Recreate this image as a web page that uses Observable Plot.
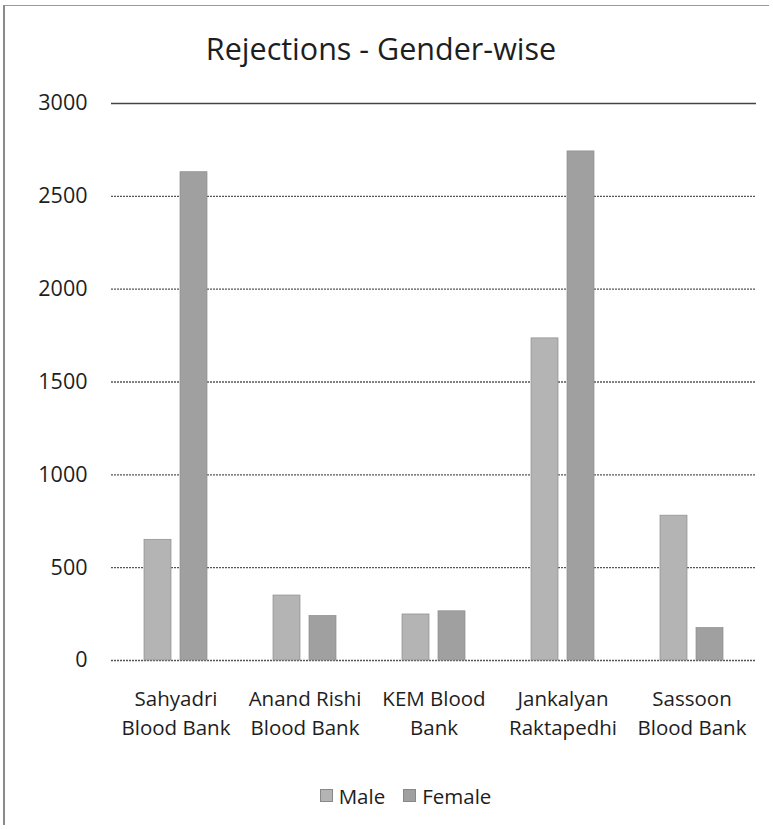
<!DOCTYPE html>
<html>
<head>
<meta charset="utf-8">
<script src="https://cdn.jsdelivr.net/npm/d3@7"></script>
<script src="https://cdn.jsdelivr.net/npm/@observablehq/plot@0.6"></script>
<style>
  html, body { margin: 0; padding: 0; background: #fff; }
  body { width: 773px; height: 829px; overflow: hidden; font-family: "Open Sans", "Noto Sans", sans-serif; color: #1e1e1e; }
  #frame { position: absolute; left: 3px; top: 5px; width: 766px; height: 820px; border-left: 2px solid #8a8a8a; border-top: 1px solid #9a9a9a; box-sizing: border-box; }
  #title { position: absolute; top: 27px; left: 0; width: 762px; text-align: center; font-size: 30.5px; }
  #chart { position: absolute; top: 80px; left: 0; }
  #legend { position: absolute; top: 782px; left: 0; width: 773px; display: flex; justify-content: center; gap: 18px; font-size: 20.5px; padding-left: 38px; box-sizing: border-box; }
  #legend span.sw { display: inline-block; width: 11px; height: 11px; margin-right: 6px; vertical-align: 2px; }
</style>
</head>
<body>
<div id="frame"></div>
<div id="title">Rejections - Gender-wise</div>
<div id="chart"></div>
<div id="legend"></div>
<script>
const categories = ["Sahyadri\nBlood Bank", "Anand Rishi\nBlood Bank", "KEM Blood\nBank", "Jankalyan\nRaktapedhi", "Sassoon\nBlood Bank"];
const series = ["Male", "Female"];
const male = [650, 350, 248, 1735, 780];
const female = [2630, 240, 265, 2742, 175];
const yTicks = [0, 500, 1000, 1500, 2000, 2500, 3000];
const colors = ["#b4b4b4", "#a0a0a0"];

const data = [];
categories.forEach((c, i) => {
  data.push({category: c, gender: series[0], value: male[i]});
  data.push({category: c, gender: series[1], value: female[i]});
});

const plot = Plot.plot({
  width: 773,
  height: 665,
  marginLeft: 110,
  marginRight: 16,
  marginTop: 23,
  marginBottom: 85,
  style: { fontFamily: "Open Sans, Noto Sans, sans-serif", fontSize: "20px", color: "#1e1e1e", background: "transparent" },
  fx: { domain: categories, paddingInner: 0, paddingOuter: 0, label: null },
  x: { domain: series, paddingInner: 0.2432, paddingOuter: 0.865, axis: null, label: null },
  y: { domain: [0, 3000], ticks: yTicks, axis: null, label: null },
  color: { domain: series, range: colors },
  marks: [
    Plot.ruleY(yTicks.filter(d => d !== 3000), { stroke: "#555", strokeWidth: 1.3, strokeDasharray: "2,1" }),
    Plot.ruleY(yTicks.filter(d => d === 3000), { stroke: "#444", strokeWidth: 1.5 }),
    Plot.barY(data, { fx: "category", x: "gender", y: "value", fill: "gender", stroke: "#8e8e8e", strokeWidth: 0.7 }),
    Plot.axisY({ ticks: yTicks, tickFormat: d => String(d), tickSize: 0, tickPadding: 24, fontSize: 21.5, anchor: "left", label: null }),
    Plot.axisFx({ tickSize: 0, tickPadding: 25, fontSize: 20.5, lineHeight: 1.4, label: null, anchor: "bottom" })
  ]
});
document.getElementById("chart").appendChild(plot);

const legend = document.getElementById("legend");
series.forEach((s, i) => {
  const item = document.createElement("div");
  const sw = document.createElement("span");
  sw.className = "sw";
  sw.style.background = plot.scale("color").apply(s);
  sw.style.border = "1px solid #888";
  item.appendChild(sw);
  item.appendChild(document.createTextNode(s));
  legend.appendChild(item);
});
</script>
</body>
</html>
